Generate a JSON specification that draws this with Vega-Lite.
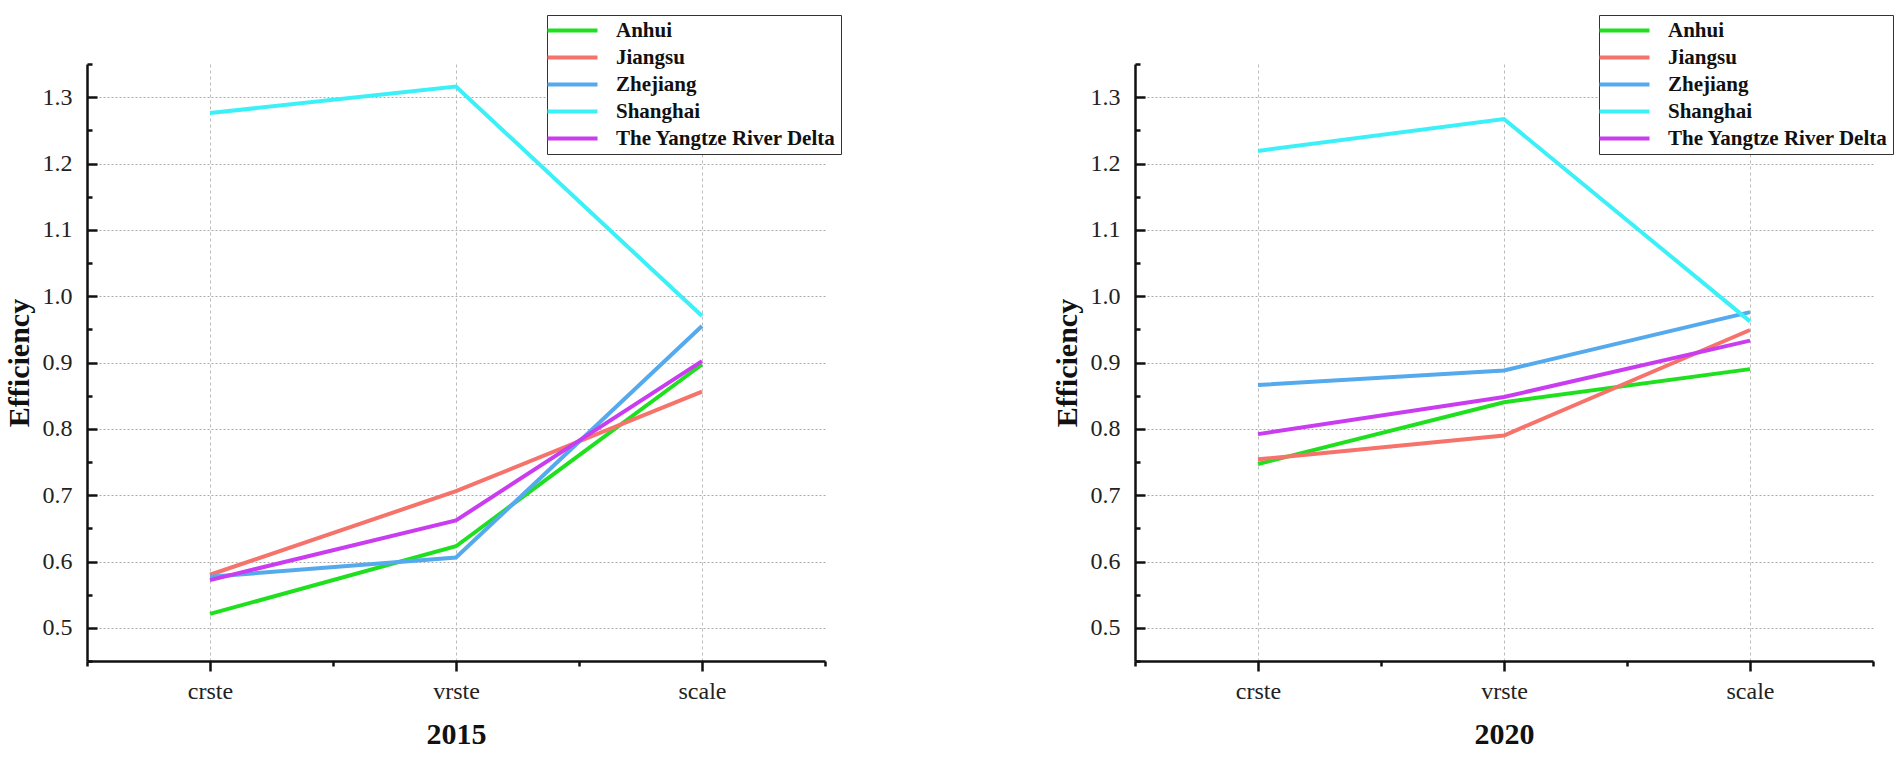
{
  "$schema": "https://vega.github.io/schema/vega-lite/v6.json",
  "background": "white",
  "padding": {"left": 4, "top": 14, "right": 5, "bottom": 5},
  "config": {
    "view": {"stroke": null},
    "font": "Liberation Serif",
    "axis": {
      "labelFont": "Liberation Serif",
      "titleFont": "Liberation Serif",
      "labelColor": "#222",
      "titleColor": "#111",
      "domainColor": "#111",
      "tickColor": "#111"
    }
  },
  "data": {
    "values": [
      {"year": 2015, "region": "Anhui", "stage": "crste", "value": 0.521},
      {"year": 2015, "region": "Anhui", "stage": "vrste", "value": 0.623},
      {"year": 2015, "region": "Anhui", "stage": "scale", "value": 0.897},
      {"year": 2015, "region": "Jiangsu", "stage": "crste", "value": 0.580},
      {"year": 2015, "region": "Jiangsu", "stage": "vrste", "value": 0.706},
      {"year": 2015, "region": "Jiangsu", "stage": "scale", "value": 0.856},
      {"year": 2015, "region": "Zhejiang", "stage": "crste", "value": 0.577},
      {"year": 2015, "region": "Zhejiang", "stage": "vrste", "value": 0.606},
      {"year": 2015, "region": "Zhejiang", "stage": "scale", "value": 0.955},
      {"year": 2015, "region": "Shanghai", "stage": "crste", "value": 1.276},
      {"year": 2015, "region": "Shanghai", "stage": "vrste", "value": 1.316},
      {"year": 2015, "region": "Shanghai", "stage": "scale", "value": 0.970},
      {"year": 2015, "region": "The Yangtze River Delta", "stage": "crste", "value": 0.572},
      {"year": 2015, "region": "The Yangtze River Delta", "stage": "vrste", "value": 0.662},
      {"year": 2015, "region": "The Yangtze River Delta", "stage": "scale", "value": 0.902},
      {"year": 2020, "region": "Anhui", "stage": "crste", "value": 0.747},
      {"year": 2020, "region": "Anhui", "stage": "vrste", "value": 0.840},
      {"year": 2020, "region": "Anhui", "stage": "scale", "value": 0.890},
      {"year": 2020, "region": "Jiangsu", "stage": "crste", "value": 0.754},
      {"year": 2020, "region": "Jiangsu", "stage": "vrste", "value": 0.790},
      {"year": 2020, "region": "Jiangsu", "stage": "scale", "value": 0.949},
      {"year": 2020, "region": "Zhejiang", "stage": "crste", "value": 0.866},
      {"year": 2020, "region": "Zhejiang", "stage": "vrste", "value": 0.888},
      {"year": 2020, "region": "Zhejiang", "stage": "scale", "value": 0.976},
      {"year": 2020, "region": "Shanghai", "stage": "crste", "value": 1.219},
      {"year": 2020, "region": "Shanghai", "stage": "vrste", "value": 1.267},
      {"year": 2020, "region": "Shanghai", "stage": "scale", "value": 0.962},
      {"year": 2020, "region": "The Yangtze River Delta", "stage": "crste", "value": 0.792},
      {"year": 2020, "region": "The Yangtze River Delta", "stage": "vrste", "value": 0.848},
      {"year": 2020, "region": "The Yangtze River Delta", "stage": "scale", "value": 0.933}
    ]
  },
  "spacing": 210,
  "resolve": {"legend": {"color": "independent"}},
  "hconcat": [
    {
      "width": 738,
      "height": 597,
      "transform": [{"filter": "datum.year == 2015"}],
      "resolve": {"scale": {"x": "independent"}, "axis": {"x": "independent"}},
      "layer": [
        {
          "mark": {"type": "line", "strokeWidth": 4},
          "encoding": {
            "x": {
              "field": "stage", "type": "nominal", "sort": ["crste", "vrste", "scale"],
              "scale": {"type": "point", "padding": 0.5},
              "axis": {
                "orient": "bottom",
                "title": "2015", "titleFontSize": 30, "titleFontWeight": "bold", "titlePadding": 16,
                "labelAngle": 0, "labelFontSize": 24, "labelPadding": 8,
                "tickSize": 10, "tickWidth": 2.5, "domainWidth": 2.5,
                "grid": true, "gridColor": "#bbb", "gridDash": [3, 3], "gridWidth": 1
              }
            },
            "y": {
              "field": "value", "type": "quantitative",
              "scale": {"domain": [0.45, 1.35], "nice": false, "zero": false},
              "axis": {
                "title": "Efficiency", "titleFontSize": 30, "titleFontWeight": "bold", "titlePadding": 8,
                "values": [0.45, 0.5, 0.55, 0.6, 0.65, 0.7, 0.75, 0.8, 0.85, 0.9, 0.95, 1.0, 1.05, 1.1, 1.15, 1.2, 1.25, 1.3, 1.35],
                "labelExpr": "round(datum.value*20)%2==0 ? format(datum.value, '.1f') : ''",
                "labelFontSize": 24, "labelPadding": 25,
                "tickSize": {"condition": {"test": "round(datum.value*20)%2==1", "value": -5}, "value": -10},
                "tickWidth": 2.5, "domainWidth": 2.5,
                "grid": true, "gridColor": "#aaa", "gridDash": [2, 2], "gridWidth": 1,
                "gridOpacity": {"condition": {"test": "round(datum.value*20)%2==1", "value": 0}, "value": 1}
              }
            },
            "color": {
              "field": "region", "type": "nominal",
              "scale": {
                "domain": ["Anhui", "Jiangsu", "Zhejiang", "Shanghai", "The Yangtze River Delta"],
                "range": ["#1ee01e", "#f5736b", "#55aaee", "#3cf0f8", "#c93cf0"]
              },
              "legend": {
                "orient": "none", "legendX": 460, "legendY": -49, "title": null,
                "symbolType": "M-5,0H5", "symbolSize": 100, "symbolStrokeWidth": 4,
                "symbolOffset": 10, "labelOffset": 33,
                "labelFont": "Liberation Serif", "labelFontWeight": "bold", "labelFontSize": 21,
                "labelColor": "#111", "labelLimit": 400,
                "strokeColor": "#333", "fillColor": "white", "padding": 5, "rowPadding": 5
              }
            }
          }
        },
        {
          "mark": {"type": "rule", "opacity": 0},
          "encoding": {
            "x": {
              "field": "stage", "type": "nominal", "sort": ["crste", "vrste", "scale"],
              "scale": {"type": "band", "paddingInner": 0, "paddingOuter": 0},
              "axis": {
                "orient": "bottom",
                "title": null, "labels": false, "domain": false, "grid": false,
                "tickBand": "extent", "tickSize": 5, "tickWidth": 2.5
              }
            }
          }
        }
      ]
    },
    {
      "width": 738,
      "height": 597,
      "transform": [{"filter": "datum.year == 2020"}],
      "resolve": {"scale": {"x": "independent"}, "axis": {"x": "independent"}},
      "layer": [
        {
          "mark": {"type": "line", "strokeWidth": 4},
          "encoding": {
            "x": {
              "field": "stage", "type": "nominal", "sort": ["crste", "vrste", "scale"],
              "scale": {"type": "point", "padding": 0.5},
              "axis": {
                "orient": "bottom",
                "title": "2020", "titleFontSize": 30, "titleFontWeight": "bold", "titlePadding": 16,
                "labelAngle": 0, "labelFontSize": 24, "labelPadding": 8,
                "tickSize": 10, "tickWidth": 2.5, "domainWidth": 2.5,
                "grid": true, "gridColor": "#bbb", "gridDash": [3, 3], "gridWidth": 1
              }
            },
            "y": {
              "field": "value", "type": "quantitative",
              "scale": {"domain": [0.45, 1.35], "nice": false, "zero": false},
              "axis": {
                "title": "Efficiency", "titleFontSize": 30, "titleFontWeight": "bold", "titlePadding": 8,
                "values": [0.45, 0.5, 0.55, 0.6, 0.65, 0.7, 0.75, 0.8, 0.85, 0.9, 0.95, 1.0, 1.05, 1.1, 1.15, 1.2, 1.25, 1.3, 1.35],
                "labelExpr": "round(datum.value*20)%2==0 ? format(datum.value, '.1f') : ''",
                "labelFontSize": 24, "labelPadding": 25,
                "tickSize": {"condition": {"test": "round(datum.value*20)%2==1", "value": -5}, "value": -10},
                "tickWidth": 2.5, "domainWidth": 2.5,
                "grid": true, "gridColor": "#aaa", "gridDash": [2, 2], "gridWidth": 1,
                "gridOpacity": {"condition": {"test": "round(datum.value*20)%2==1", "value": 0}, "value": 1}
              }
            },
            "color": {
              "field": "region", "type": "nominal",
              "scale": {
                "domain": ["Anhui", "Jiangsu", "Zhejiang", "Shanghai", "The Yangtze River Delta"],
                "range": ["#1ee01e", "#f5736b", "#55aaee", "#3cf0f8", "#c93cf0"]
              },
              "legend": {
                "orient": "none", "legendX": 464, "legendY": -49, "title": null,
                "symbolType": "M-5,0H5", "symbolSize": 100, "symbolStrokeWidth": 4,
                "symbolOffset": 10, "labelOffset": 33,
                "labelFont": "Liberation Serif", "labelFontWeight": "bold", "labelFontSize": 21,
                "labelColor": "#111", "labelLimit": 400,
                "strokeColor": "#333", "fillColor": "white", "padding": 5, "rowPadding": 5
              }
            }
          }
        },
        {
          "mark": {"type": "rule", "opacity": 0},
          "encoding": {
            "x": {
              "field": "stage", "type": "nominal", "sort": ["crste", "vrste", "scale"],
              "scale": {"type": "band", "paddingInner": 0, "paddingOuter": 0},
              "axis": {
                "orient": "bottom",
                "title": null, "labels": false, "domain": false, "grid": false,
                "tickBand": "extent", "tickSize": 5, "tickWidth": 2.5
              }
            }
          }
        }
      ]
    }
  ]
}
